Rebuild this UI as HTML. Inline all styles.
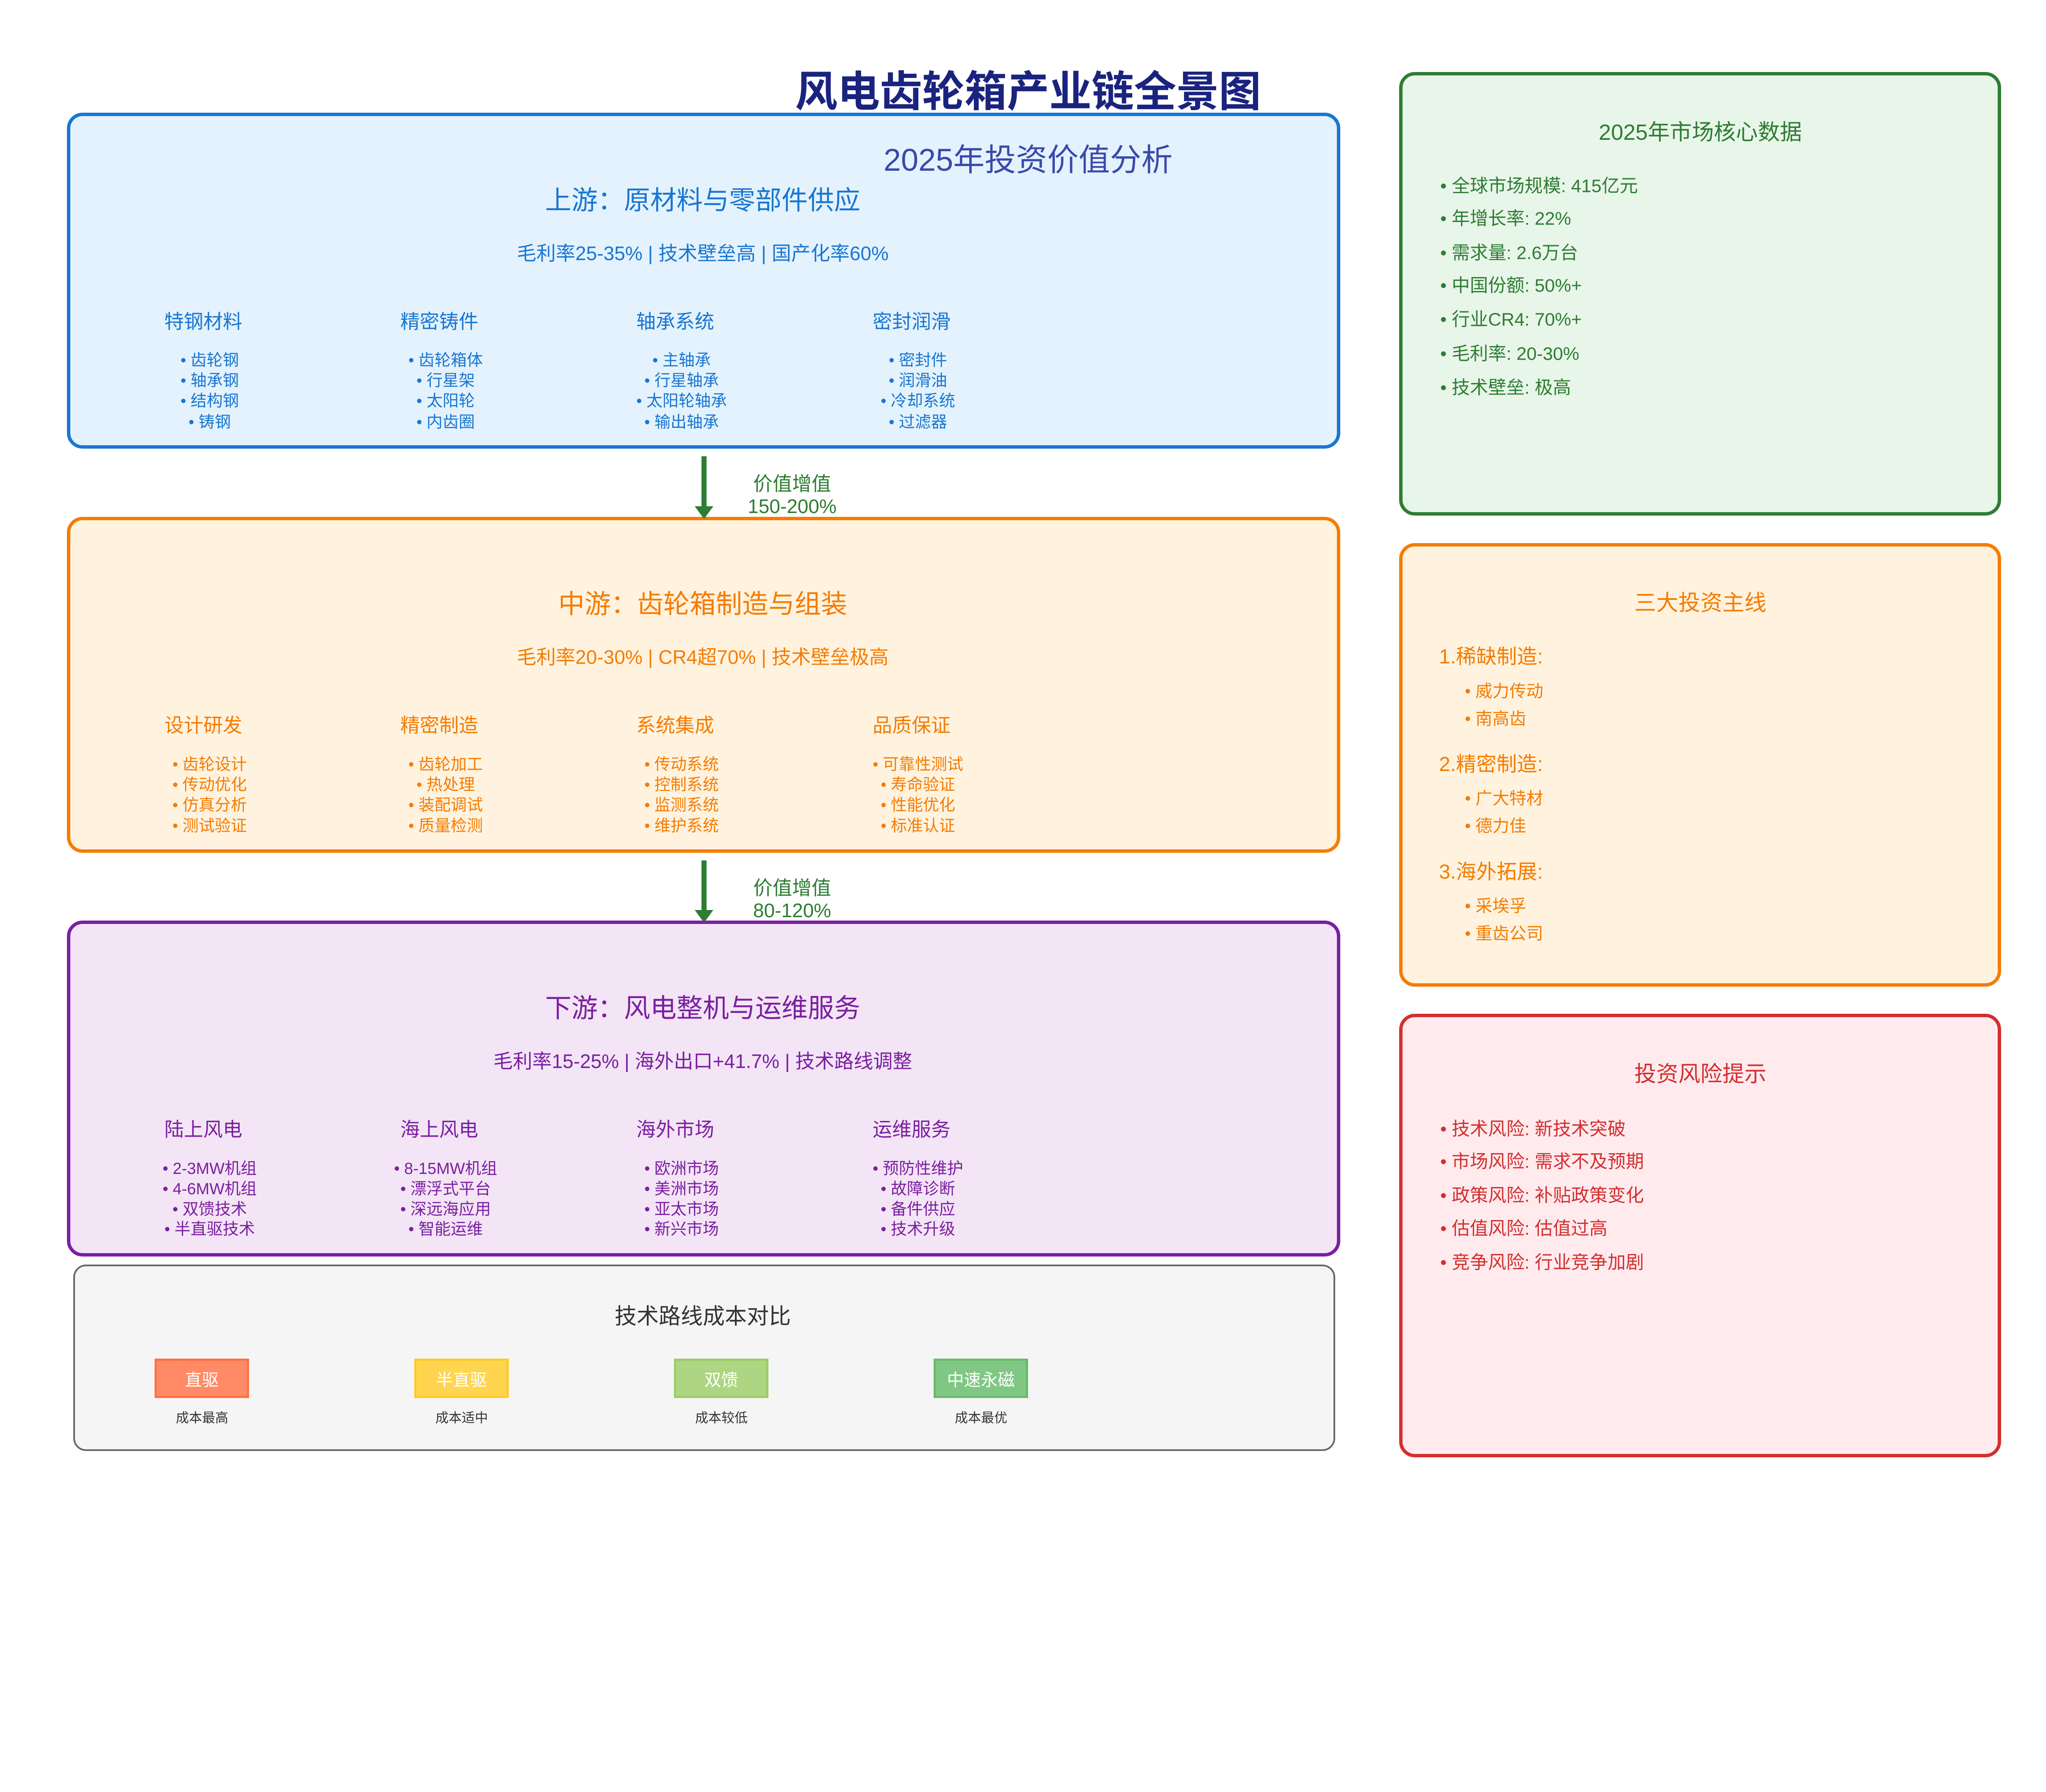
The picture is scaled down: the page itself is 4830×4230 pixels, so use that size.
<!DOCTYPE html>
<html><head><meta charset="utf-8"><style>
*{margin:0;padding:0;box-sizing:border-box}
body{width:4830px;height:4230px;background:#fff;position:relative;overflow:hidden;font-family:"Liberation Sans","Noto Sans CJK SC",sans-serif}
.box{position:absolute;border-style:solid;border-width:8px;border-radius:37px}
.t{position:absolute;transform:translate(-50%,-50%);white-space:nowrap;line-height:1}
.l{position:absolute;transform:translateY(-50%);white-space:nowrap;line-height:1}
.cb{position:absolute;width:223px;height:93px;border:5px solid;color:#fff;font-size:40px;display:flex;align-items:center;justify-content:center}
</style></head><body>

<div class="box" style="left:158px;top:266px;width:3006px;height:793px;background:#e3f2fd;border-color:#1976d2"></div>
<div class="box" style="left:158px;top:1220px;width:3006px;height:793px;background:#fff3e0;border-color:#f57c00"></div>
<div class="box" style="left:158px;top:2173px;width:3006px;height:793px;background:#f3e5f5;border-color:#7b1fa2"></div>
<div class="box" style="left:173px;top:2985px;width:2979px;height:440px;background:#f5f5f5;border-color:#666;border-width:4px;border-radius:30px"></div>
<div class="box" style="left:3303px;top:170px;width:1421px;height:1047px;background:#e8f5e9;border-color:#2e7d32"></div>
<div class="box" style="left:3303px;top:1282px;width:1421px;height:1047px;background:#fff3e0;border-color:#f57c00"></div>
<div class="box" style="left:3303px;top:2393px;width:1421px;height:1047px;background:#ffebee;border-color:#d32f2f"></div>

<div class="t" style="left:2427px;top:217px;font-size:100px;color:#1a237e;font-weight:bold">风电齿轮箱产业链全景图</div>
<div class="t" style="left:2427px;top:378px;font-size:74px;color:#3949ab">2025年投资价值分析</div>

<!-- upstream -->
<div style="color:#1976d2">
<div class="t" style="left:1659px;top:474px;font-size:62px">上游：原材料与零部件供应</div>
<div class="t" style="left:1659px;top:598px;font-size:46px">毛利率25-35% | 技术壁垒高 | 国产化率60%</div>
<div class="t" style="left:480px;top:759px;font-size:46px">特钢材料</div>
<div class="t" style="left:1037px;top:759px;font-size:46px">精密铸件</div>
<div class="t" style="left:1594px;top:759px;font-size:46px">轴承系统</div>
<div class="t" style="left:2152px;top:759px;font-size:46px">密封润滑</div>
<div class="t" style="left:495px;top:851px;font-size:38px">• 齿轮钢</div><div class="t" style="left:495px;top:899px;font-size:38px">• 轴承钢</div><div class="t" style="left:495px;top:947px;font-size:38px">• 结构钢</div><div class="t" style="left:495px;top:997px;font-size:38px">• 铸钢</div>
<div class="t" style="left:1052px;top:851px;font-size:38px">• 齿轮箱体</div><div class="t" style="left:1052px;top:899px;font-size:38px">• 行星架</div><div class="t" style="left:1052px;top:947px;font-size:38px">• 太阳轮</div><div class="t" style="left:1052px;top:997px;font-size:38px">• 内齿圈</div>
<div class="t" style="left:1609px;top:851px;font-size:38px">• 主轴承</div><div class="t" style="left:1609px;top:899px;font-size:38px">• 行星轴承</div><div class="t" style="left:1609px;top:947px;font-size:38px">• 太阳轮轴承</div><div class="t" style="left:1609px;top:997px;font-size:38px">• 输出轴承</div>
<div class="t" style="left:2167px;top:851px;font-size:38px">• 密封件</div><div class="t" style="left:2167px;top:899px;font-size:38px">• 润滑油</div><div class="t" style="left:2167px;top:947px;font-size:38px">• 冷却系统</div><div class="t" style="left:2167px;top:997px;font-size:38px">• 过滤器</div>
</div>

<!-- midstream -->
<div style="color:#f57c00">
<div class="t" style="left:1659px;top:1427px;font-size:62px">中游：齿轮箱制造与组装</div>
<div class="t" style="left:1659px;top:1551px;font-size:46px">毛利率20-30% | CR4超70% | 技术壁垒极高</div>
<div class="t" style="left:480px;top:1712px;font-size:46px">设计研发</div>
<div class="t" style="left:1037px;top:1712px;font-size:46px">精密制造</div>
<div class="t" style="left:1594px;top:1712px;font-size:46px">系统集成</div>
<div class="t" style="left:2152px;top:1712px;font-size:46px">品质保证</div>
<div class="t" style="left:495px;top:1805px;font-size:38px">• 齿轮设计</div><div class="t" style="left:495px;top:1853px;font-size:38px">• 传动优化</div><div class="t" style="left:495px;top:1901px;font-size:38px">• 仿真分析</div><div class="t" style="left:495px;top:1950px;font-size:38px">• 测试验证</div>
<div class="t" style="left:1052px;top:1805px;font-size:38px">• 齿轮加工</div><div class="t" style="left:1052px;top:1853px;font-size:38px">• 热处理</div><div class="t" style="left:1052px;top:1901px;font-size:38px">• 装配调试</div><div class="t" style="left:1052px;top:1950px;font-size:38px">• 质量检测</div>
<div class="t" style="left:1609px;top:1805px;font-size:38px">• 传动系统</div><div class="t" style="left:1609px;top:1853px;font-size:38px">• 控制系统</div><div class="t" style="left:1609px;top:1901px;font-size:38px">• 监测系统</div><div class="t" style="left:1609px;top:1950px;font-size:38px">• 维护系统</div>
<div class="t" style="left:2167px;top:1805px;font-size:38px">• 可靠性测试</div><div class="t" style="left:2167px;top:1853px;font-size:38px">• 寿命验证</div><div class="t" style="left:2167px;top:1901px;font-size:38px">• 性能优化</div><div class="t" style="left:2167px;top:1950px;font-size:38px">• 标准认证</div>
</div>

<!-- downstream -->
<div style="color:#7b1fa2">
<div class="t" style="left:1659px;top:2381px;font-size:62px">下游：风电整机与运维服务</div>
<div class="t" style="left:1659px;top:2505px;font-size:46px">毛利率15-25% | 海外出口+41.7% | 技术路线调整</div>
<div class="t" style="left:480px;top:2666px;font-size:46px">陆上风电</div>
<div class="t" style="left:1037px;top:2666px;font-size:46px">海上风电</div>
<div class="t" style="left:1594px;top:2666px;font-size:46px">海外市场</div>
<div class="t" style="left:2152px;top:2666px;font-size:46px">运维服务</div>
<div class="t" style="left:495px;top:2759px;font-size:38px">• 2-3MW机组</div><div class="t" style="left:495px;top:2807px;font-size:38px">• 4-6MW机组</div><div class="t" style="left:495px;top:2855px;font-size:38px">• 双馈技术</div><div class="t" style="left:495px;top:2902px;font-size:38px">• 半直驱技术</div>
<div class="t" style="left:1052px;top:2759px;font-size:38px">• 8-15MW机组</div><div class="t" style="left:1052px;top:2807px;font-size:38px">• 漂浮式平台</div><div class="t" style="left:1052px;top:2855px;font-size:38px">• 深远海应用</div><div class="t" style="left:1052px;top:2902px;font-size:38px">• 智能运维</div>
<div class="t" style="left:1609px;top:2759px;font-size:38px">• 欧洲市场</div><div class="t" style="left:1609px;top:2807px;font-size:38px">• 美洲市场</div><div class="t" style="left:1609px;top:2855px;font-size:38px">• 亚太市场</div><div class="t" style="left:1609px;top:2902px;font-size:38px">• 新兴市场</div>
<div class="t" style="left:2167px;top:2759px;font-size:38px">• 预防性维护</div><div class="t" style="left:2167px;top:2807px;font-size:38px">• 故障诊断</div><div class="t" style="left:2167px;top:2855px;font-size:38px">• 备件供应</div><div class="t" style="left:2167px;top:2902px;font-size:38px">• 技术升级</div>
</div>

<!-- arrows -->
<svg style="position:absolute;left:0;top:0" width="4830" height="4230">
<line x1="1662" y1="1077" x2="1662" y2="1200" stroke="#2e7d32" stroke-width="12"/>
<polygon points="1640,1195 1684,1195 1662,1225" fill="#2e7d32"/>
<line x1="1662" y1="2031" x2="1662" y2="2153" stroke="#2e7d32" stroke-width="12"/>
<polygon points="1640,2148 1684,2148 1662,2178" fill="#2e7d32"/>
</svg>
<div style="color:#2e7d32">
<div class="t" style="left:1870px;top:1142px;font-size:46px">价值增值</div>
<div class="t" style="left:1870px;top:1195px;font-size:46px">150-200%</div>
<div class="t" style="left:1870px;top:2096px;font-size:46px">价值增值</div>
<div class="t" style="left:1870px;top:2149px;font-size:46px">80-120%</div>
</div>

<!-- tech -->
<div class="t" style="left:1659px;top:3108px;font-size:52px;color:#333">技术路线成本对比</div>
<div class="cb" style="left:365px;top:3207px;background:#ff8a65;border-color:#ff7043">直驱</div>
<div class="cb" style="left:978px;top:3207px;background:#ffd54f;border-color:#ffca28">半直驱</div>
<div class="cb" style="left:1591px;top:3207px;background:#aed581;border-color:#9ccc65">双馈</div>
<div class="cb" style="left:2204px;top:3207px;background:#81c784;border-color:#66bb6a">中速永磁</div>
<div style="color:#333">
<div class="t" style="left:477px;top:3347px;font-size:31px">成本最高</div>
<div class="t" style="left:1090px;top:3347px;font-size:31px">成本适中</div>
<div class="t" style="left:1703px;top:3347px;font-size:31px">成本较低</div>
<div class="t" style="left:2316px;top:3347px;font-size:31px">成本最优</div>
</div>

<!-- green -->
<div style="color:#2e7d32">
<div class="t" style="left:4014px;top:313px;font-size:52px">2025年市场核心数据</div>
<div class="l" style="left:3400px;top:440px;font-size:43px">• 全球市场规模: 415亿元</div>
<div class="l" style="left:3400px;top:517px;font-size:43px">• 年增长率: 22%</div>
<div class="l" style="left:3400px;top:598px;font-size:43px">• 需求量: 2.6万台</div>
<div class="l" style="left:3400px;top:675px;font-size:43px">• 中国份额: 50%+</div>
<div class="l" style="left:3400px;top:755px;font-size:43px">• 行业CR4: 70%+</div>
<div class="l" style="left:3400px;top:836px;font-size:43px">• 毛利率: 20-30%</div>
<div class="l" style="left:3400px;top:916px;font-size:43px">• 技术壁垒: 极高</div>
</div>

<!-- orange -->
<div style="color:#f57c00">
<div class="t" style="left:4014px;top:1424px;font-size:52px">三大投资主线</div>
<div class="l" style="left:3397px;top:1551px;font-size:48px">1.稀缺制造:</div>
<div class="l" style="left:3458px;top:1632px;font-size:40px">• 威力传动</div>
<div class="l" style="left:3458px;top:1697px;font-size:40px">• 南高齿</div>
<div class="l" style="left:3397px;top:1805px;font-size:48px">2.精密制造:</div>
<div class="l" style="left:3458px;top:1885px;font-size:40px">• 广大特材</div>
<div class="l" style="left:3458px;top:1950px;font-size:40px">• 德力佳</div>
<div class="l" style="left:3397px;top:2059px;font-size:48px">3.海外拓展:</div>
<div class="l" style="left:3458px;top:2139px;font-size:40px">• 采埃孚</div>
<div class="l" style="left:3458px;top:2204px;font-size:40px">• 重齿公司</div>
</div>

<!-- red -->
<div style="color:#d32f2f">
<div class="t" style="left:4014px;top:2536px;font-size:52px">投资风险提示</div>
<div class="l" style="left:3400px;top:2666px;font-size:43px">• 技术风险: 新技术突破</div>
<div class="l" style="left:3400px;top:2743px;font-size:43px">• 市场风险: 需求不及预期</div>
<div class="l" style="left:3400px;top:2823px;font-size:43px">• 政策风险: 补贴政策变化</div>
<div class="l" style="left:3400px;top:2901px;font-size:43px">• 估值风险: 估值过高</div>
<div class="l" style="left:3400px;top:2981px;font-size:43px">• 竞争风险: 行业竞争加剧</div>
</div>

</body></html>
